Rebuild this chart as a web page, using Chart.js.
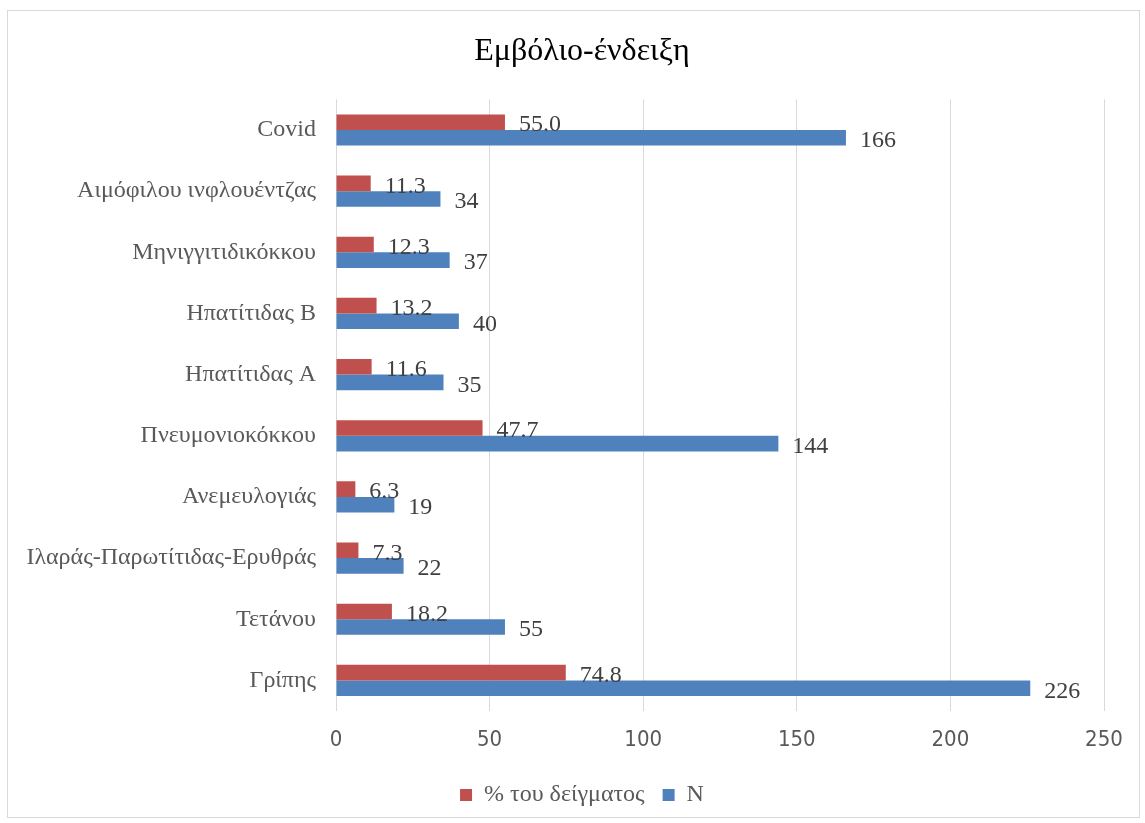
<!DOCTYPE html>
<html>
<head>
<meta charset="utf-8">
<script src="https://cdn.jsdelivr.net/npm/chart.js@4"></script>
<style>
  html, body { margin: 0; padding: 0; background: #fff; }
  #wrap { width: 1145px; height: 823px; }
</style>
</head>
<body>
<div id="wrap"><canvas id="myChart" width="1145" height="823"></canvas></div>
<script>
const categories = ['Covid', 'Αιμόφιλου ινφλουέντζας', 'Μηνιγγιτιδικόκκου', 'Ηπατίτιδας Β', 'Ηπατίτιδας Α',
    'Πνευμονιοκόκκου', 'Ανεμευλογιάς', 'Ιλαράς-Παρωτίτιδας-Ερυθράς', 'Τετάνου', 'Γρίπης'];
const percentValues = [55.0, 11.3, 12.3, 13.2, 11.6, 47.7, 6.3, 7.3, 18.2, 74.8];
const nValues = [166, 34, 37, 40, 35, 144, 19, 22, 55, 226];
const xTicks = [0, 50, 100, 150, 200, 250];

const serif = '"Liberation Serif", "Times New Roman", serif';
const narrow = '"DejaVu Sans Condensed", "DejaVu Sans", sans-serif';

// frame around the whole chart
const framePlugin = {
    id: 'frame',
    beforeDraw(chart) {
        const ctx = chart.ctx;
        ctx.save();
        ctx.strokeStyle = '#d9d9d9';
        ctx.lineWidth = 1;
        ctx.strokeRect(7.5, 10.5, 1132, 807);
        ctx.restore();
    }
};

// title and legend sit a bit right of the canvas centre in the original
const shiftBlocks = {
    id: 'shiftBlocks',
    afterLayout(chart) {
        [chart.titleBlock, chart.legend].forEach(b => {
            if (b) { b.left += 25; b.right += 25; }
        });
    }
};

// value labels next to each bar end
const valueLabels = {
    id: 'valueLabels',
    afterDatasetsDraw(chart) {
        const ctx = chart.ctx;
        ctx.save();
        ctx.font = '24px ' + serif;
        ctx.fillStyle = '#404040';
        ctx.textBaseline = 'middle';
        ctx.textAlign = 'left';
        chart.data.datasets.forEach((ds, i) => {
            chart.getDatasetMeta(i).data.forEach((bar, j) => {
                const v = ds.data[j];
                const txt = i === 0 ? v.toFixed(1) : String(v);
                ctx.fillText(txt, bar.x + 14, bar.y + 3);
            });
        });
        ctx.restore();
    }
};

new Chart(document.getElementById('myChart').getContext('2d'), {
    type: 'bar',
    data: {
        labels: categories,
        datasets: [{
            label: '% του δείγματος',
            data: percentValues,
            backgroundColor: '#c0504d',
            categoryPercentage: 0.51,
            barPercentage: 1.0
        }, {
            label: 'N',
            data: nValues,
            backgroundColor: '#4f81bd',
            categoryPercentage: 0.51,
            barPercentage: 1.0
        }]
    },
    options: {
        indexAxis: 'y',
        responsive: false,
        animation: false,
        layout: { padding: { left: 10, right: 41, top: 10, bottom: 6 } },
        scales: {
            x: {
                min: 0,
                max: 250,
                afterBuildTicks: (scale) => { scale.ticks = xTicks.map(v => ({ value: v })); },
                afterFit: (scale) => { scale.height = 54; },
                grid: { color: '#d9d9d9', drawTicks: false },
                border: { display: false },
                ticks: {
                    padding: 16,
                    color: '#595959',
                    font: { family: narrow, size: 22 }
                }
            },
            y: {
                grid: { display: false, drawTicks: false },
                border: { display: false },
                afterFit: (scale) => { scale.width = 326; },
                ticks: {
                    padding: 20,
                    color: '#595959',
                    font: { family: serif, size: 24 }
                }
            }
        },
        plugins: {
            title: {
                display: true,
                text: 'Εμβόλιο-ένδειξη',
                color: '#000000',
                font: { family: serif, size: 32, weight: 'normal' },
                padding: { top: 22, bottom: 29 }
            },
            legend: {
                position: 'bottom',
                labels: {
                    color: '#595959',
                    font: { family: serif, size: 24 },
                    boxWidth: 12,
                    boxHeight: 12,
                    padding: 18
                }
            },
            tooltip: { enabled: false }
        }
    },
    plugins: [framePlugin, shiftBlocks, valueLabels]
});
</script>
</body>
</html>
